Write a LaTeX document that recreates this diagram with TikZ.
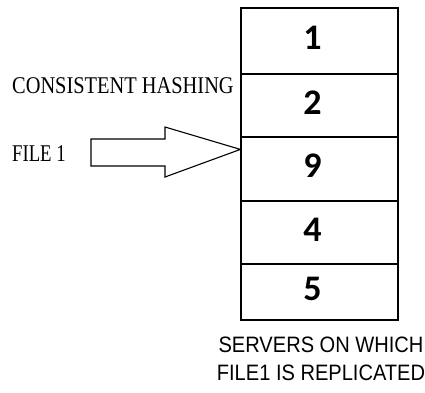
\documentclass[tikz,border=0pt]{standalone}
\usepackage{fontspec}
\setmainfont{Liberation Serif}
\newfontfamily\numfont{Carlito}
\newfontfamily\capfont{Liberation Sans}
\newcommand {\server}[4] {\node[srv, minimum height=#3] (#1) at (319.5,#2) {};
                          \node[num] (#1n) at ([xshift=-7pt, yshift=3pt]#1.center) {#4};}

\tikzset{srv/.style={draw, line width=1.2pt, minimum width=157pt, inner sep=0pt},
         num/.style={inner sep=0pt, font=\numfont\bfseries\fontsize{36}{36}\selectfont},
         lbl/.style={anchor=west, inner sep=0pt, font=\fontsize{24}{24}\selectfont}}

\begin{document}
\begin{tikzpicture}[x=1pt, y=-1pt]
        \useasboundingbox (0,0) rectangle (425,392);
        \server{s1}{41}{66}{1}
        \server{s2}{105.5}{63}{2}
        \server{s9}{169}{64}{9}
        \server{s4}{232.5}{63}{4}
        \server{s5}{292}{56}{5}
        \node[lbl, xscale=0.85] (hash) at (12,86) {CONSISTENT HASHING};
        \node[lbl, xscale=0.78] (file) at (12,153.5) {FILE 1};
        \coordinate (tip) at ([yshift=-13pt]s9.north west);
        \draw[line width=1.1pt, line join=miter] (91,139) -- (165,139) -- (165,127) -- (tip)
              -- (165,177) -- (165,166) -- (91,166) -- cycle;
        \node[xscale=0.9, align=center, inner sep=0pt,
              font=\capfont\fontsize{22.3}{28.5}\selectfont] (caption) at (321,359)
              {SERVERS ON WHICH\\FILE1 IS REPLICATED};
    \end{tikzpicture}
\end{document}
